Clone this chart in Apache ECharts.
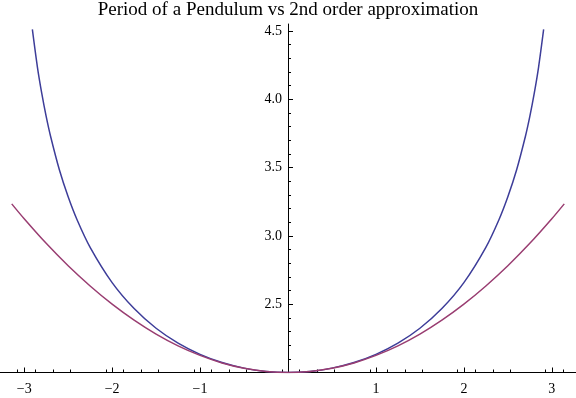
<!doctype html>
<html>

<head>
    <meta charset="utf-8">
    <title>Period of a Pendulum</title>
    <style>
    html, body {
      margin: 0;
      padding: 0;
      background: #fff;
    }
    #main {
      width: 576px;
      height: 398px;
    }
    </style>
</head>

<body>
    <div id="main"></div>
    <script src="https://cdn.jsdelivr.net/npm/echarts@6/dist/echarts.min.js"></script>
    <script>
    // exact period (blue)
    var blueX = [-2.907, -2.85, -2.8, -2.75, -2.7, -2.6, -2.5, -2.4, -2.25, -2, -1.75, -1.5, -1.25, -1, -0.75, -0.5, -0.25, 0,
        0.25, 0.5, 0.75, 1, 1.25, 1.5, 1.75, 2, 2.25, 2.4, 2.5, 2.6, 2.7, 2.75, 2.8, 2.85, 2.907];
    var blueY = [4.51, 4.237, 4.042, 3.874, 3.729, 3.484, 3.286, 3.120, 2.916, 2.658, 2.468, 2.324, 2.215, 2.133, 2.073, 2.032, 2.008, 2.0,
        2.008, 2.032, 2.073, 2.133, 2.215, 2.324, 2.468, 2.658, 2.916, 3.120, 3.286, 3.484, 3.729, 3.874, 4.042, 4.237, 4.51];

    // 2nd order approximation (red)
    var redX = [-3.1416, -3, -2.75, -2.5, -2.25, -2, -1.75, -1.5, -1.25, -1, -0.75, -0.5, -0.25, 0,
        0.25, 0.5, 0.75, 1, 1.25, 1.5, 1.75, 2, 2.25, 2.5, 2.75, 3, 3.1416];
    var redY = [3.234, 3.125, 2.945, 2.781, 2.633, 2.5, 2.383, 2.281, 2.195, 2.125, 2.070, 2.031, 2.008, 2.0,
        2.008, 2.031, 2.070, 2.125, 2.195, 2.281, 2.383, 2.5, 2.633, 2.781, 2.945, 3.125, 3.234];

    var xTicks = [-3, -2, -1, 1, 2, 3];
    var yTicks = [2.5, 3, 3.5, 4, 4.5];

    function pairs(xs, ys) {
        return xs.map(function(x, i) { return [x, ys[i]]; });
    }

    var font = 'Liberation Serif, Times New Roman, serif';

    var chart = echarts.init(document.getElementById('main'));
    chart.setOption({
        animation: false,
        title: {
            text: 'Period of a Pendulum vs 2nd order approximation',
            left: 'center',
            top: -4,
            textStyle: {
                fontFamily: font,
                fontSize: 19,
                fontWeight: 'normal',
                color: '#000'
            }
        },
        grid: {
            left: 0,
            right: 0,
            top: 24,
            bottom: 25.5,
            containLabel: false,
            outerBoundsMode: 'none'
        },
        xAxis: {
            type: 'value',
            min: -3.275,
            max: 3.275,
            interval: 1,
            splitLine: { show: false },
            axisLine: { lineStyle: { color: '#000', width: 1 } },
            axisTick: {
                inside: true,
                length: 5,
                customValues: xTicks,
                lineStyle: { color: '#000' }
            },
            minorTick: {
                show: true,
                splitNumber: 5,
                length: 3,
                lineStyle: { color: '#000' }
            },
            axisLabel: {
                customValues: xTicks,
                margin: 10,
                fontFamily: font,
                fontSize: 14,
                color: '#000',
                formatter: function(v) {
                    v = Number(v);
                    return v < 0 ? '\u2212' + Math.abs(v) : String(v);
                }
            }
        },
        yAxis: {
            type: 'value',
            position: 'left',
            offset: -288,
            min: 2,
            max: 4.55,
            interval: 0.5,
            splitLine: { show: false },
            axisLine: { onZero: false, lineStyle: { color: '#000', width: 1 } },
            axisTick: {
                inside: true,
                length: 5,
                customValues: yTicks,
                lineStyle: { color: '#000' }
            },
            minorTick: {
                show: true,
                splitNumber: 5,
                length: 3,
                lineStyle: { color: '#000' }
            },
            axisLabel: {
                customValues: yTicks,
                margin: 6,
                fontFamily: font,
                fontSize: 14,
                color: '#000',
                formatter: function(v) {
                    return Number(v).toFixed(1);
                }
            }
        },
        series: [{
            name: 'exact',
            type: 'line',
            data: pairs(blueX, blueY),
            smooth: 0.3,
            showSymbol: false,
            lineStyle: { color: '#3d3d99', width: 1.5 }
        }, {
            name: 'approx',
            type: 'line',
            data: pairs(redX, redY),
            smooth: 0.3,
            showSymbol: false,
            lineStyle: { color: '#993d71', width: 1.5 }
        }]
    });
    </script>
</body>

</html>
